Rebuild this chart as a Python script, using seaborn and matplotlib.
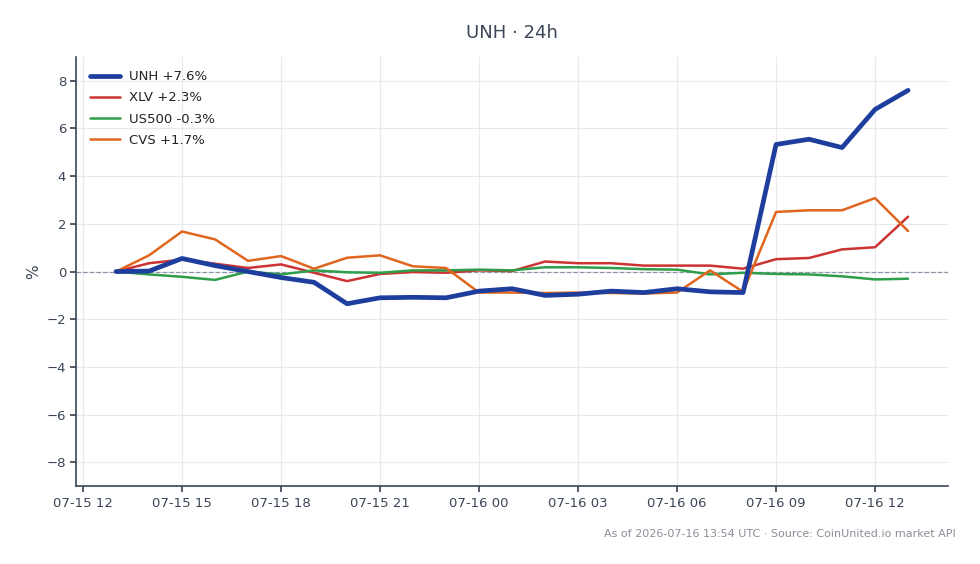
import pandas as pd
import matplotlib.pyplot as plt
import matplotlib.dates as mdates
import seaborn as sns

sns.set_theme(style="white", rc={"axes.grid": True, "grid.color": "#e6e9ee", "grid.linewidth": 0.8})
plt.rcParams['font.family'] = ['DejaVu Sans']

hours = pd.date_range('2026-07-15 13:00', '2026-07-16 13:00', freq='h')

unh = [0.0, 0.02, 0.55, 0.25, 0.0, -0.25, -0.45, -1.35, -1.1, -1.08, -1.1, -0.82, -0.72,
       -1.0, -0.95, -0.82, -0.88, -0.72, -0.85, -0.88, 5.33, 5.55, 5.2, 6.8, 7.6]
xlv = [0.0, 0.35, 0.5, 0.33, 0.15, 0.3, -0.05, -0.4, -0.1, -0.02, -0.05, 0.05, 0.02,
       0.42, 0.35, 0.35, 0.25, 0.25, 0.25, 0.12, 0.52, 0.57, 0.93, 1.02, 2.3]
us500 = [0.0, -0.12, -0.22, -0.35, 0.0, -0.12, 0.05, -0.03, -0.05, 0.05, 0.05, 0.08, 0.05,
         0.18, 0.18, 0.15, 0.1, 0.08, -0.12, -0.05, -0.1, -0.12, -0.2, -0.33, -0.3]
cvs = [0.0, 0.68, 1.68, 1.35, 0.45, 0.65, 0.12, 0.58, 0.68, 0.22, 0.15, -0.88, -0.88,
       -0.9, -0.88, -0.9, -0.92, -0.88, 0.05, -0.85, 2.5, 2.57, 2.57, 3.08, 1.7]

series = {'UNH': unh, 'XLV': xlv, 'US500': us500, 'CVS': cvs}
colors = {'UNH': '#1e3e9e', 'XLV': '#cc3333', 'US500': '#2e9e4a', 'CVS': '#e0661e'}
widths = {'UNH': 3.4, 'XLV': 1.8, 'US500': 1.8, 'CVS': 1.8}

fig, ax = plt.subplots(figsize=(9.8, 5.64), dpi=100)

for name, vals in series.items():
    df = pd.DataFrame({'time': hours, 'pct': vals})
    sns.lineplot(data=df, x='time', y='pct', color=colors[name], linewidth=widths[name],
                 label=f'{name} {vals[-1]:+.1f}%', ax=ax, zorder=3 if name == 'UNH' else 2)

ax.axhline(0, color='#8a96a6', linestyle='--', linewidth=0.9, zorder=1)

ax.set_ylim(-9, 9)
ax.set_yticks([-8, -6, -4, -2, 0, 2, 4, 6, 8])
ax.set_yticklabels(['\u22128', '\u22126', '\u22124', '\u22122', '0', '2', '4', '6', '8'])
ax.xaxis.set_major_locator(mdates.HourLocator(byhour=range(0, 24, 3)))
ax.xaxis.set_major_formatter(mdates.DateFormatter('%m-%d %H'))

for s in ['top', 'right']:
    ax.spines[s].set_visible(False)
for s in ['left', 'bottom']:
    ax.spines[s].set_color('#3a4656')
    ax.spines[s].set_linewidth(1.2)
ax.tick_params(axis='both', colors='#3a4656', labelsize=9.5, length=4, direction='out', bottom=True, left=True)

ax.set_xlabel('')
ax.set_ylabel('%', fontsize=11, color='#3a4656')
ax.set_title('UNH \u00b7 24h', fontsize=13, color='#3a4656', pad=14)

leg = ax.legend(loc='upper left', frameon=False, fontsize=9.5, handlelength=2.3,
                handletextpad=0.7, labelspacing=0.62, borderaxespad=0.6)
for t in leg.get_texts():
    t.set_color('#222222')

fig.text(0.975, 0.053, 'As of 2026-07-16 13:54 UTC \u00b7 Source: CoinUnited.io market API',
         ha='right', va='center', fontsize=8, color='#8a8f98')

plt.subplots_adjust(left=0.078, right=0.967, top=0.899, bottom=0.138)
plt.savefig('out.png', dpi=100, facecolor='white')
